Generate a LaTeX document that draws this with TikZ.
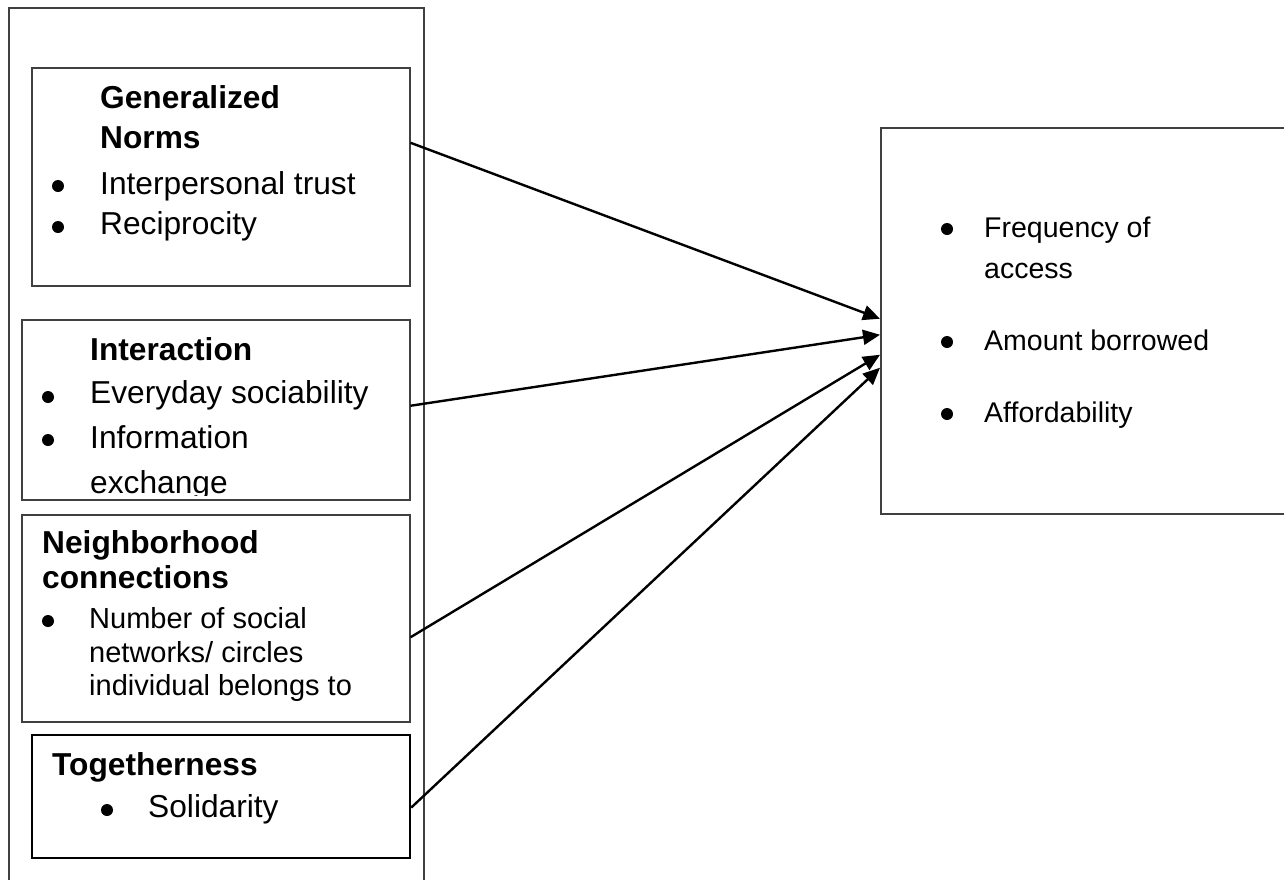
\documentclass[tikz,border=0pt]{standalone}
\usepackage{fontspec}
\setmainfont{Liberation Sans}
\usetikzlibrary{arrows.meta}
\begin{document}
\begin{tikzpicture}[x=1pt,y=-1pt,
 box/.style={draw=black!75,line width=1.5pt,rectangle,inner sep=0pt,anchor=north west},
 txt/.style={anchor=base west,inner sep=0pt,font=\fontsize{31.7}{38}\selectfont},
 btxt/.style={txt,font=\fontsize{31.7}{38}\selectfont\bfseries},
 small/.style={anchor=base west,inner sep=0pt,font=\fontsize{29}{34}\selectfont},
 rtxt/.style={anchor=base west,inner sep=0pt,font=\fontsize{28.5}{34}\selectfont},
 bul/.style={circle,fill=black,inner sep=0pt,minimum size=12pt},
 conn/.style={line width=2.4pt,-{Triangle[length=17pt,width=15pt]}}]
\clip (0,0) rectangle (1284,879);
\fill[white] (0,0) rectangle (1284,879);
% outer frame
\node[box,minimum width=415pt,minimum height=900pt] (outer) at (8,7) {};
% Generalized Norms
\node[box,minimum width=378pt,minimum height=218pt] (gn) at (31,67) {};
\node[btxt] (gnt1) at (100,108) {Generalized};
\node[btxt] (gnt2) at (100,148) {Norms};
\node[bul] (b1) at (58,186) {};
\node[txt] (gni1) at (100,194) {Interpersonal trust};
\node[bul] (b2) at (58,227) {};
\node[txt] (gni2) at (100,234) {Reciprocity};
% Interaction
\node[box,minimum width=388pt,minimum height=180pt] (ia) at (21,319) {};
\node[btxt] (iat) at (90,360) {Interaction};
\node[bul] (b3) at (48,397) {};
\node[txt] (iai1) at (90,403) {Everyday sociability};
\node[bul] (b4) at (48,440) {};
\node[txt] (iai2) at (90,448) {Information};
\begin{scope}
\clip (21,319) rectangle (409,495);
\node[txt] (iai3) at (90,493) {exchange};
\end{scope}
% Neighborhood connections
\node[box,minimum width=388pt,minimum height=207pt] (nc) at (21,514) {};
\node[btxt] (nct1) at (42,553) {Neighborhood};
\node[btxt] (nct2) at (42,588) {connections};
\node[bul] (b5) at (48,621) {};
\node[small] (nci1) at (89,628) {Number of social};
\node[small] (nci2) at (89,662) {networks/ circles};
\node[small] (nci3) at (89,695) {individual belongs to};
% Togetherness
\node[box,draw=black,line width=2.2pt,minimum width=378pt,minimum height=123pt] (tg) at (31,734) {};
\node[btxt] (tgt) at (52,775) {Togetherness};
\node[bul] (b6) at (107,810) {};
\node[txt] (tgi) at (148,817) {Solidarity};
% Outcome box
\node[box,minimum width=450pt,minimum height=386pt] (out) at (880,127) {};
\node[bul] (b7) at (947,229) {};
\node[rtxt] (o1) at (984,237) {Frequency of};
\node[rtxt] (o2) at (984,278) {access};
\node[bul] (b8) at (947,342) {};
\node[rtxt] (o3) at (984,350) {Amount borrowed};
\node[bul] (b9) at (947,414) {};
\node[rtxt] (o4) at (984,422) {Affordability};
% connectors
\draw[conn] ([yshift=34pt]gn.east) -- ([yshift=2pt]out.west);
\draw[conn] ([yshift=4pt]ia.east) -- ([yshift=-14pt]out.west);
\draw[conn] ([yshift=-19pt]nc.east) -- ([yshift=-34pt]out.west);
\draw[conn] ([yshift=-11pt]tg.east) -- ([yshift=-47pt]out.west);
\end{tikzpicture}
\end{document}
